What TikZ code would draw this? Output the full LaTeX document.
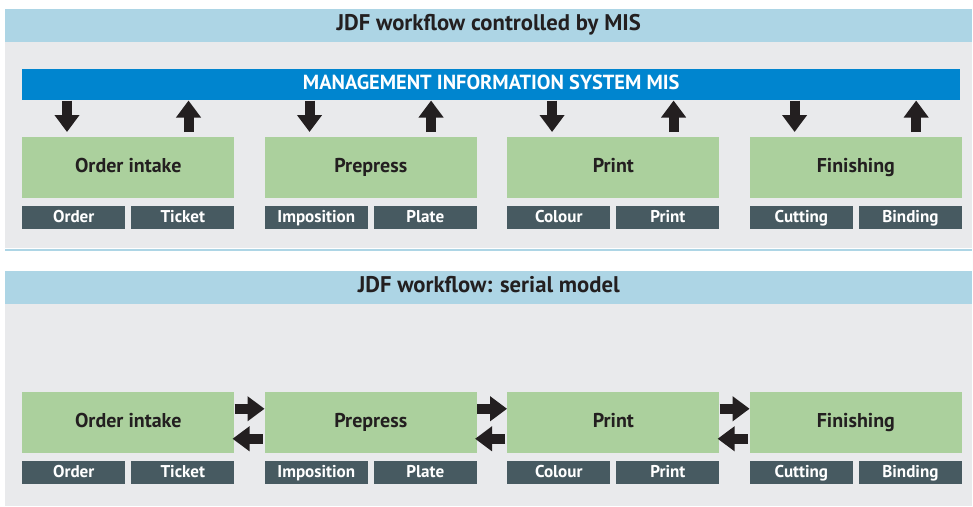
\documentclass[tikz,border=0pt]{standalone}
\usepackage{fontspec}
\setmainfont{PT Sans}
\usetikzlibrary{positioning, arrows.meta}
\definecolor{headblue}{HTML}{ADD5E5}
\definecolor{panelgray}{HTML}{E9EAEC}
\definecolor{misblue}{HTML}{0085CF}
\definecolor{stagegreen}{HTML}{ABD09D}
\definecolor{datagray}{HTML}{475A61}
\definecolor{inkblack}{HTML}{231F20}

\begin{document}
\begin{tikzpicture}[
            x=0.75pt, y=-0.75pt,
            header/.style={fill=headblue, minimum width=725.25pt, minimum height=24.75pt,
                inner sep=0pt, anchor=north west, text=inkblack, text height=1.5ex, text depth=0ex,
                font=\bfseries\fontsize{17}{19}\selectfont},
            panel/.style={fill=panelgray, minimum width=725.25pt, inner sep=0pt, anchor=north west},
            mis/.style={fill=misblue, minimum width=703.5pt, minimum height=23.25pt, inner sep=0pt,
                anchor=north west, text=white, text height=1.5ex, text depth=0ex,
                font=\bfseries\fontsize{15.3}{17}\selectfont},
            stage/.style={fill=stagegreen, minimum width=159pt, minimum height=45.75pt, inner sep=0pt,
                anchor=north west, text=inkblack, text height=1.5ex, text depth=0ex,
                font=\bfseries\fontsize{15}{17}\selectfont},
            data/.style={fill=datagray, minimum width=77.25pt, minimum height=17.25pt, inner sep=0pt,
                anchor=north west, text=white, text height=1.5ex, text depth=0ex,
                font=\bfseries\fontsize{12.8}{14}\selectfont},
            flow/.style={draw=inkblack, line width=7.5pt, -{Triangle[length=12.75pt, width=18pt]}},
        ]
            \fill[white] (0,0) rectangle (973,506);

            \node[panel, minimum height=154.5pt] (panelA) at (5,42) {};
            \fill[headblue] (panelA.south west) rectangle ++(967,2);
            \node[header] (headA) at (5,9) {JDF workflow controlled by MIS};
            \node[mis] (mis) at (22,69) {MANAGEMENT INFORMATION SYSTEM MIS};

            \node[stage] (intakeA) at (22,137) {Order intake};
            \node[stage, right=22.5pt of intakeA] (prepressA) {Prepress};
            \node[stage, right=22.5pt of prepressA] (printA) {Print};
            \node[stage, right=22.5pt of printA] (finishA) {Finishing};

            \node[data, below=5.25pt of intakeA.south west, anchor=north west] (orderA) {Order};
            \node[data, below=5.25pt of intakeA.south east, anchor=north east] (ticketA) {Ticket};
            \node[data, below=5.25pt of prepressA.south west, anchor=north west] (impoA) {Imposition};
            \node[data, below=5.25pt of prepressA.south east, anchor=north east] (plateA) {Plate};
            \node[data, below=5.25pt of printA.south west, anchor=north west] (colourA) {Colour};
            \node[data, below=5.25pt of printA.south east, anchor=north east] (pressA) {Print};
            \node[data, below=5.25pt of finishA.south west, anchor=north west] (cutA) {Cutting};
            \node[data, below=5.25pt of finishA.south east, anchor=north east] (bindA) {Binding};

            \draw[flow] ([xshift=33.75pt]intakeA.north west |- mis.south) -- ([xshift=33.75pt, yshift=3.75pt]intakeA.north west);
            \draw[flow] ([xshift=-34.5pt, yshift=3.75pt]intakeA.north east) -- ([xshift=-34.5pt]intakeA.north east |- mis.south);
            \draw[flow] ([xshift=33.75pt]prepressA.north west |- mis.south) -- ([xshift=33.75pt, yshift=3.75pt]prepressA.north west);
            \draw[flow] ([xshift=-34.5pt, yshift=3.75pt]prepressA.north east) -- ([xshift=-34.5pt]prepressA.north east |- mis.south);
            \draw[flow] ([xshift=33.75pt]printA.north west |- mis.south) -- ([xshift=33.75pt, yshift=3.75pt]printA.north west);
            \draw[flow] ([xshift=-34.5pt, yshift=3.75pt]printA.north east) -- ([xshift=-34.5pt]printA.north east |- mis.south);
            \draw[flow] ([xshift=33.75pt]finishA.north west |- mis.south) -- ([xshift=33.75pt, yshift=3.75pt]finishA.north west);
            \draw[flow] ([xshift=-34.5pt, yshift=3.75pt]finishA.north east) -- ([xshift=-34.5pt]finishA.north east |- mis.south);

            \node[panel, minimum height=151.5pt] (panelB) at (5,304) {};
            \node[header] (headB) at (5,271) {JDF workflow: serial model};

            \node[stage] (intakeB) at (22,392) {Order intake};
            \node[stage, right=22.5pt of intakeB] (prepressB) {Prepress};
            \node[stage, right=22.5pt of prepressB] (printB) {Print};
            \node[stage, right=22.5pt of printB] (finishB) {Finishing};

            \node[data, below=5.25pt of intakeB.south west, anchor=north west] (orderB) {Order};
            \node[data, below=5.25pt of intakeB.south east, anchor=north east] (ticketB) {Ticket};
            \node[data, below=5.25pt of prepressB.south west, anchor=north west] (impoB) {Imposition};
            \node[data, below=5.25pt of prepressB.south east, anchor=north east] (plateB) {Plate};
            \node[data, below=5.25pt of printB.south west, anchor=north west] (colourB) {Colour};
            \node[data, below=5.25pt of printB.south east, anchor=north east] (pressB) {Print};
            \node[data, below=5.25pt of finishB.south west, anchor=north west] (cutB) {Cutting};
            \node[data, below=5.25pt of finishB.south east, anchor=north east] (bindB) {Binding};

            \draw[flow] ([yshift=10.5pt]intakeB.east) -- ([yshift=10.5pt]prepressB.west);
            \draw[flow] ([xshift=-1.5pt, yshift=-12pt]prepressB.west) -- ([xshift=-1.5pt, yshift=-12pt]intakeB.east);
            \draw[flow] ([yshift=10.5pt]prepressB.east) -- ([yshift=10.5pt]printB.west);
            \draw[flow] ([xshift=-1.5pt, yshift=-12pt]printB.west) -- ([xshift=-1.5pt, yshift=-12pt]prepressB.east);
            \draw[flow] ([yshift=10.5pt]printB.east) -- ([yshift=10.5pt]finishB.west);
            \draw[flow] ([xshift=-1.5pt, yshift=-12pt]finishB.west) -- ([xshift=-1.5pt, yshift=-12pt]printB.east);
        \end{tikzpicture}
\end{document}
